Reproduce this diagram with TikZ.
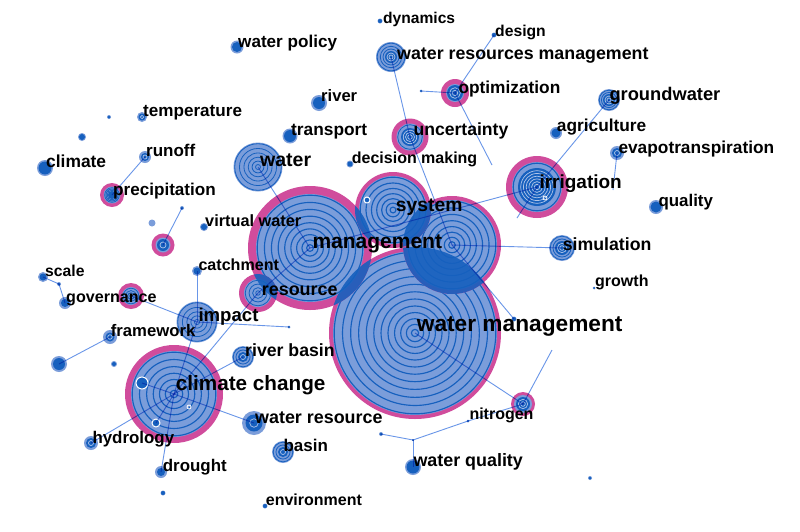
\documentclass[tikz,border=0pt]{standalone}
\usepackage{fontspec}
\setmainfont{Liberation Sans}
\definecolor{lb}{RGB}{123,157,218}
\definecolor{db}{RGB}{22,96,190}
\definecolor{mag}{RGB}{208,76,156}
\definecolor{edgec}{RGB}{105,150,232}
\tikzset{
 hit/.style={circle,inner sep=0pt,outer sep=0pt,draw=none},
 ringo/.style={draw=db,line width=\rw},
 ringi/.style={draw=lb!60!white,line width=0.7pt},
 klab/.style={anchor=base west,inner sep=0pt},
 link/.style={draw=edgec,line width=0.9pt},
 hollow/.style={fill=db,draw=white,line width=1pt},
}
\def\rw{1.15pt}
% name, x, y, radius, magenta width, dark core radius, rings in core, rings outside core
\newcommand\tnode[8]{%
 \ifdim#4pt<28pt \def\rw{0.8pt}\else\def\rw{1.15pt}\fi
 \node[hit,minimum size=#4pt*2] (#1) at (#2,#3) {};
 \ifdim#5pt>0pt \fill[mag] (#1.center) circle[radius=#4pt]; \fi
 \fill[lb] (#1.center) circle[radius={(#4-#5)*1pt}];
 \ifdim#6pt>0pt \fill[db] (#1.center) circle[radius=#6pt]; \fi
 \ifnum#7>0 \foreach \k in {1,...,#7}{\draw[ringi] (#1.center) circle[radius={#6*\k/(#7+1)*1pt}];}\fi
 \ifnum#8>0 \foreach \k in {1,...,#8}{\draw[ringo] (#1.center) circle[radius={(#6+(#4-#5-#6-1.2)*pow(\k/(#8),1.25))*1pt}];}\fi
}
\newcommand\klabel[5]{\node[klab,font={\bfseries\fontsize{#5}{#5}\selectfont}] (#1) at (#2,#3) {#4};}
\newcommand\lens[4]{\begin{scope}\clip (#1.center) circle[radius=#2pt];
 \fill[db,fill opacity=0.9] (#3.center) circle[radius=#4pt];\end{scope}}
\begin{document}
\begin{tikzpicture}[x=1pt,y=-1pt]
\fill[white] (0,0) rectangle (800,531);
\useasboundingbox (0,0) rectangle (800,531);

% big nodes
\tnode{WM}{415}{333}{86}{4}{0}{0}{12}
\tnode{mgmt}{310}{248}{62}{8}{0}{0}{9}
\tnode{C}{452}{245}{49}{4}{0}{0}{8}
\tnode{sys}{393}{210}{38}{4}{0}{0}{7}
\tnode{cc}{174}{394}{49}{6}{0}{0}{7}
\tnode{irr}{537}{187}{31}{6}{19}{6}{1}
\tnode{water}{258}{167}{24.5}{0}{0}{0}{6}
\tnode{impact}{197}{322}{20.5}{0}{0}{0}{5}
\tnode{res}{258}{293}{19}{5}{0}{0}{4}
\tnode{unc}{410}{137}{18.5}{5}{9}{3}{1}
\tnode{wrm}{391}{57}{15}{0}{6}{2}{3}
\tnode{opt}{455}{93}{14}{5}{8}{2}{0}
\tnode{sim}{562}{248}{13}{0}{7}{2}{2}
\tnode{govm}{131}{296}{13}{4}{0}{0}{4}
\tnode{prec}{112}{195}{12}{3.5}{4}{0}{3}
\tnode{nit}{523}{404}{12}{3}{7}{2}{0}
\tnode{mg1}{163}{245}{11.5}{4}{6}{1}{0}
\tnode{wr}{254}{423}{12}{0}{8.5}{1}{0}
\tnode{gw}{609}{100}{11}{0}{6}{2}{2}
\tnode{rb}{243}{357}{11}{0}{5}{1}{2}
\tnode{basin}{283}{452}{11}{0}{5}{1}{2}

% lenses where big nodes overlap
\lens{mgmt}{62}{WM}{86}
\lens{mgmt}{62}{sys}{38}
\lens{sys}{38}{C}{49}
\lens{C}{49}{WM}{86}
\lens{mgmt}{62}{res}{19}

% small nodes
\tnode{dyn}{380}{21}{2.5}{0}{2}{0}{0}
\tnode{des}{494}{35}{2.5}{0}{2}{0}{0}
\tnode{wpol}{237}{47}{6.5}{0}{5}{0}{0}
\tnode{odot}{421}{91}{1.5}{0}{1.2}{0}{0}
\tnode{river}{319}{103}{8}{0}{6}{0}{0}
\tnode{temp}{142}{117}{5}{0}{3.5}{1}{0}
\tnode{da}{109}{117}{2}{0}{1.5}{0}{0}
\tnode{trans}{290}{136}{7.5}{0}{6}{0}{0}
\tnode{agri}{556}{133}{6}{0}{4.5}{0}{0}
\tnode{db2}{82}{137}{4}{0}{3}{0}{0}
\tnode{runoff}{145}{157}{6}{0}{4}{1}{0}
\tnode{dm}{350}{164}{3.5}{0}{2.5}{0}{0}
\tnode{evap}{617}{153}{7}{0}{5}{1}{0}
\tnode{clim}{45}{168}{8}{0}{6.5}{0}{0}
\tnode{qual}{656}{207}{7}{0}{5.5}{0}{0}
\tnode{dc}{182}{208}{2}{0}{1.5}{0}{0}
\tnode{dd}{152}{223}{3.5}{0}{0}{0}{0}
\tnode{vw}{204}{227}{4}{0}{3}{0}{0}
\tnode{catch}{197}{271}{5}{0}{3.5}{0}{0}
\tnode{scale}{43}{277}{5}{0}{3.5}{0}{0}
\tnode{growth}{594}{288}{1.5}{0}{1}{0}{0}
\tnode{de}{59}{284}{2}{0}{1.5}{0}{0}
\tnode{gov}{65}{303}{6}{0}{4}{0}{0}
\tnode{df}{289}{327}{1.5}{0}{1.2}{0}{0}
\tnode{fw}{110}{337}{7}{0}{4.5}{1}{0}
\tnode{dg}{514}{319}{2.5}{0}{2}{0}{0}
\tnode{dh}{59}{364}{8}{0}{6}{0}{0}
\tnode{di}{114}{364}{3}{0}{2}{0}{0}
\tnode{dj}{381}{434}{2}{0}{1.5}{0}{0}
\tnode{jn}{413}{440}{1}{0}{1}{0}{0}
\tnode{jn2}{468}{421}{1.5}{0}{1.2}{0}{0}
\tnode{hyd}{91}{443}{7}{0}{5}{1}{0}
\tnode{drought}{161}{472}{6}{0}{4}{0}{0}
\tnode{wq}{413}{467}{8}{0}{6.5}{0}{0}
\tnode{dk}{590}{478}{2}{0}{1.5}{0}{0}
\tnode{dl}{163}{493}{2.5}{0}{2}{0}{0}
\tnode{env}{265}{506}{2.5}{0}{2}{0}{0}
% inner marks
\node[hit,hollow,minimum size=12pt] (cci1) at (142,383) {};
\node[hit,hollow,minimum size=8pt] (cci2) at (156,423) {};
\node[hit,draw=white,line width=0.8pt,minimum size=4pt] (cci3) at (189,407) {};
\node[hit,hollow,minimum size=6pt] (sysi) at (367,200) {};
\node[hit,draw=white,line width=0.8pt,minimum size=4pt] (irri) at (545,198) {};

% free ends
\coordinate (fe1) at (552,350);
\coordinate (fe2) at (492,165);
\coordinate (fe3) at (517,218);
\coordinate (fe4) at (613,190);

% links
\begin{scope}[blend mode=multiply]
\foreach \a/\b in {wrm/unc,unc/C,opt/des,opt/odot,opt/fe2,runoff/prec,dc/mg1,
 water/mgmt,irr/gw,mgmt/irr,irr/fe3,evap/fe4,C/sim,mgmt/res,res/cc,impact/cc,
 impact/catch,impact/govm,impact/df,cc/rb,cc/wr,cc/hyd,cc/drought,cc/cci1,cc/cci2,
 fw/dh,scale/de,de/gov,WM/nit,nit/fe1,C/dg,nit/jn2,jn2/jn,jn/dj,jn/wq}
 \draw[link] (\a.center) -- (\b.center);
\end{scope}

% labels
\klabel{l1}{383}{23.5}{dynamics}{15.6}
\klabel{l2}{495}{36}{design}{15.7}
\klabel{l3}{397}{59.3}{water resources management}{17.8}
\klabel{l4}{238}{47.3}{water policy}{17.1}
\klabel{l5}{458.3}{93.3}{optimization}{17.3}
\klabel{l6}{321}{101.7}{river}{16.6}
\klabel{l7}{609.3}{100}{groundwater}{18.3}
\klabel{l8}{143}{116}{temperature}{17.1}
\klabel{l9}{413.3}{135}{uncertainty}{17.6}
\klabel{l10}{291}{135}{transport}{17.3}
\klabel{l11}{556.7}{131.7}{agriculture}{17.3}
\klabel{l12}{146}{156}{runoff}{17}
\klabel{l13}{351.7}{163.3}{decision making}{16}
\klabel{l14}{260}{166.7}{water}{19.5}
\klabel{l15}{618.3}{153.3}{evapotranspiration}{17.3}
\klabel{l16}{46}{167.7}{climate}{17.4}
\klabel{l17}{539.3}{188.3}{irrigation}{19}
\klabel{l18}{113}{195.7}{precipitation}{17.1}
\klabel{l19}{658.3}{206.7}{quality}{16.9}
\klabel{l20}{395.7}{211.7}{system}{19.3}
\klabel{l21}{205}{226.7}{virtual water}{16.3}
\klabel{l22}{312.3}{248.3}{management}{21}
\klabel{l23}{562.7}{250}{simulation}{17.7}
\klabel{l24}{198.3}{270}{catchment}{16.1}
\klabel{l25}{45}{276.7}{scale}{15.7}
\klabel{l26}{595}{286.7}{growth}{16}
\klabel{l27}{66}{302.7}{governance}{16.1}
\klabel{l28}{261.7}{295}{resource}{17.9}
\klabel{l29}{198.3}{321.7}{impact}{18.6}
\klabel{l30}{110.7}{336}{framework}{16.7}
\klabel{l31}{416.7}{331.7}{water management}{22.7}
\klabel{l32}{245}{356.7}{river basin}{17.7}
\klabel{l33}{175.7}{390}{climate change}{20.7}
\klabel{l34}{469.3}{419.3}{nitrogen}{16}
\klabel{l35}{255}{423.3}{water resource}{17.9}
\klabel{l36}{92.3}{443.3}{hydrology}{16.9}
\klabel{l37}{283.3}{451.7}{basin}{17}
\klabel{l38}{413.3}{466.7}{water quality}{17.9}
\klabel{l39}{162.7}{471.7}{drought}{16.9}
\klabel{l40}{265.7}{505}{environment}{16}
\end{tikzpicture}
\end{document}
